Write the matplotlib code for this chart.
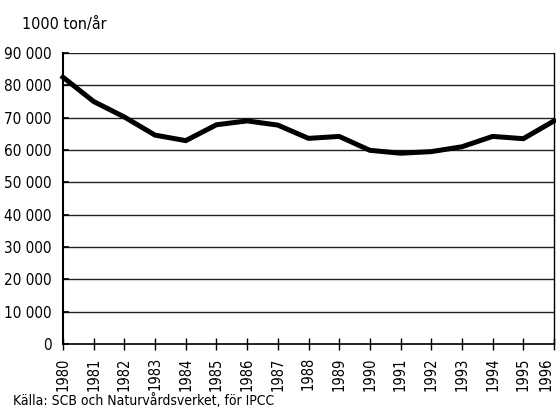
import matplotlib
matplotlib.use('Agg')
import matplotlib.pyplot as plt

plt.rcParams['font.family'] = ['DejaVu Sans']
plt.rcParams['font.stretch'] = 'condensed'

# Utsläpp per år (1000 ton/år)
years = list(range(1980, 1997))
values = [82500, 75000, 70200, 64600, 62900, 67800, 69000, 67700, 63600,
          64200, 59900, 59000, 59500, 61000, 64200, 63500, 69000]
y_ticks = list(range(0, 90001, 10000))
y_labels = [f'{v:,}'.replace(',', ' ') for v in y_ticks]

fig = plt.figure(figsize=(5.56, 4.11), dpi=100)
ax = fig.add_axes([63 / 556, 1 - 344 / 411, 491 / 556, 291 / 411])

ax.plot(years, values, color='black', linewidth=3.6, solid_joinstyle='miter',
        clip_on=False, zorder=3)

ax.set_xlim(1980, 1996)
ax.set_ylim(0, 90000)
ax.set_yticks(y_ticks)
ax.set_yticklabels(y_labels, fontsize=11)
ax.set_xticks(years)
ax.set_xticklabels([str(y) for y in years], rotation=90, fontsize=10.5)

# last year label kept inside the figure
ax.get_xticklabels()[-1].set_horizontalalignment('right')

for v in y_ticks[1:]:
    ax.axhline(v, color='#222222', linewidth=1.0, zorder=1)

ax.tick_params(axis='y', direction='in', length=4, width=1.2, pad=8)
ax.tick_params(axis='x', direction='inout', length=9, width=1, pad=5)

ax.spines['top'].set_visible(False)
ax.spines['left'].set_linewidth(1.5)
ax.spines['bottom'].set_linewidth(1.2)
ax.spines['right'].set_linewidth(1.0)

fig.text(22 / 556, 1 - 24 / 411, '1000 ton/år', fontsize=11.5, va='center', ha='left')
fig.text(13 / 556, 1 - 401 / 411, 'Källa: SCB och Naturvårdsverket, för IPCC',
         fontsize=10, va='center', ha='left')

fig.savefig('out.png', dpi=100)
plt.close(fig)
